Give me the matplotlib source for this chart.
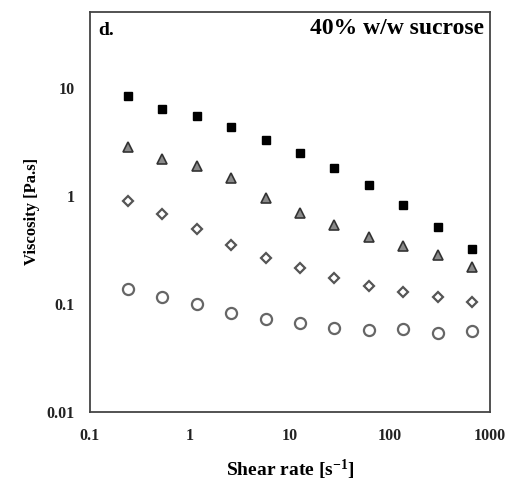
import matplotlib
matplotlib.use("Agg")
import matplotlib.pyplot as plt
from matplotlib.ticker import FixedLocator, NullLocator

# Shear rate steps [1/s]
shear_rate = [0.24, 0.53, 1.18, 2.6, 5.7, 12.6, 27.7, 61, 136, 304, 661]

# Viscosity [Pa.s] for the four samples
visc_square = [8.56, 6.49, 5.5, 4.35, 3.3, 2.52, 1.83, 1.26, 0.83, 0.52, 0.326]
visc_triangle = [2.84, 2.22, 1.9, 1.46, 0.97, 0.70, 0.54, 0.42, 0.344, 0.282, 0.222]
visc_diamond = [0.90, 0.68, 0.49, 0.35, 0.269, 0.216, 0.173, 0.145, 0.128, 0.115, 0.103]
visc_circle = [0.137, 0.117, 0.099, 0.082, 0.072, 0.067, 0.060, 0.057, 0.058, 0.054, 0.056]

x_ticks = [0.1, 1, 10, 100, 1000]
x_labels = ['0.1', '1', '10', '100', '1000']
y_ticks = [0.01, 0.1, 1, 10]
y_labels = ['0.01', '0.1', '1', '10']

plt.rcParams['font.family'] = ['Liberation Serif', 'DejaVu Serif']
plt.rcParams['font.weight'] = 'bold'
plt.rcParams['mathtext.fontset'] = 'custom'
plt.rcParams['mathtext.rm'] = 'Liberation Serif:bold'
plt.rcParams['mathtext.default'] = 'rm'

fig = plt.figure(figsize=(5.07, 4.82), dpi=100, facecolor='white')
ax = fig.add_axes([0.1775, 0.146, 0.789, 0.829])

ax.plot(shear_rate, visc_square, linestyle='none', marker='s', markersize=6,
        markerfacecolor='black', markeredgecolor='black')
ax.plot(shear_rate, visc_triangle, linestyle='none', marker='^', markersize=7.5,
        markerfacecolor='#8a8a8a', markeredgecolor='#333333', markeredgewidth=1.2)
ax.plot(shear_rate, visc_diamond, linestyle='none', marker='D', markersize=5.5,
        markerfacecolor='white', markeredgecolor='#555555', markeredgewidth=1.6)
ax.plot(shear_rate, visc_circle, linestyle='none', marker='o', markersize=8,
        markerfacecolor='white', markeredgecolor='#666666', markeredgewidth=1.6)

ax.set_xscale('log')
ax.set_yscale('log')
ax.set_xlim(0.1, 1000)
ax.set_ylim(0.01, 51)

ax.xaxis.set_major_locator(FixedLocator(x_ticks))
ax.yaxis.set_major_locator(FixedLocator(y_ticks))
ax.xaxis.set_minor_locator(NullLocator())
ax.yaxis.set_minor_locator(NullLocator())
ax.set_xticklabels(x_labels)
ax.set_yticklabels(y_labels)
ax.tick_params(axis='both', length=0, labelsize=11.5, colors='#222222')
ax.tick_params(axis='x', pad=12)
ax.tick_params(axis='y', pad=11)

for spine in ax.spines.values():
    spine.set_linewidth(1.3)
    spine.set_color('#444444')

ax.set_xlabel('Shear rate [s$^{-1}$]', fontsize=14, fontweight='bold', labelpad=10)
ax.set_ylabel('Viscosity [Pa.s]', fontsize=12, fontweight='bold', labelpad=5)

ax.text(0.02, 0.975, 'd.', transform=ax.transAxes, ha='left', va='top',
        fontsize=14, fontweight='bold')
ax.text(0.985, 0.985, '40% w/w sucrose', transform=ax.transAxes, ha='right', va='top',
        fontsize=17, fontweight='bold')

fig.savefig('out.png', dpi=100, facecolor='white')
